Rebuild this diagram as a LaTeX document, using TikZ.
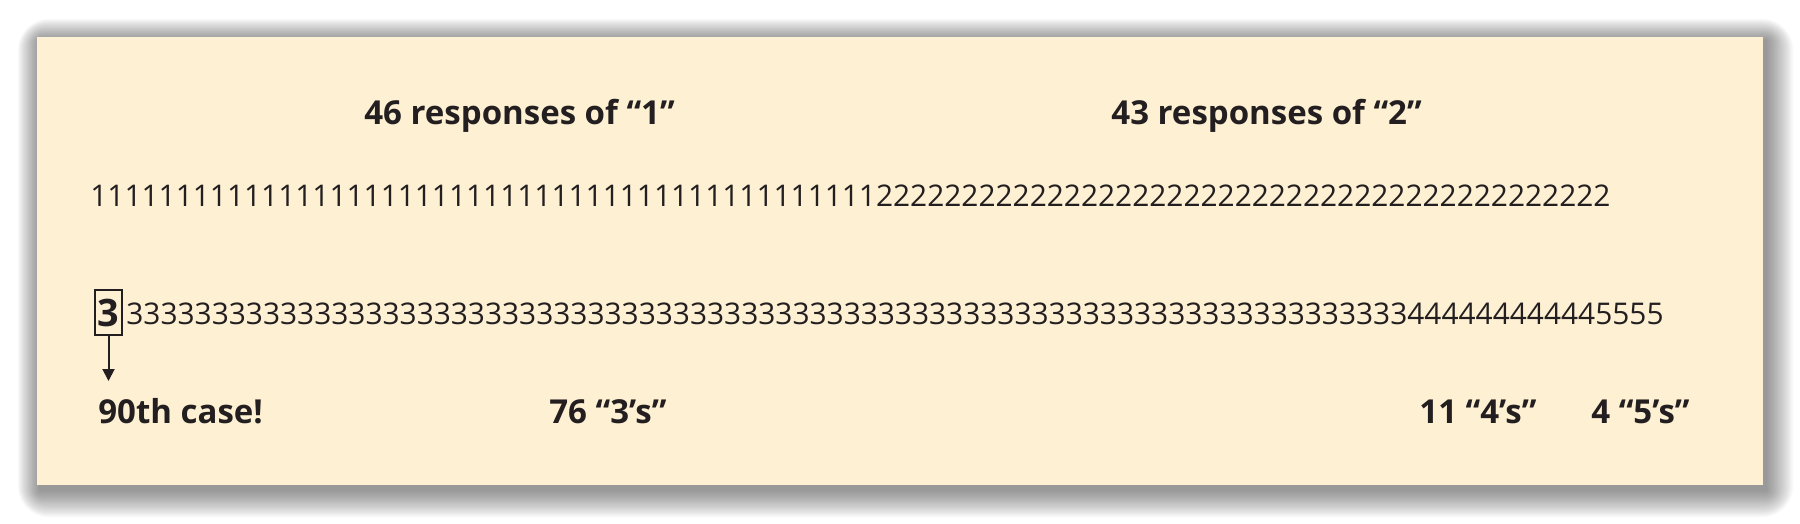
\documentclass[tikz,border=0pt]{standalone}
\usepackage{fontspec}
\setmainfont{Open Sans}
\usetikzlibrary{arrows.meta}
\definecolor{card}{RGB}{254,240,211}
\definecolor{ink}{RGB}{35,31,32}
\newcommand\myrep[2]{\foreach \i in {1,...,#1}{#2}}
\tikzset{
  digits/.style={font=\fontsize{14.93}{18}\selectfont, text=ink, inner sep=0pt, anchor=base west},
  lbl/.style={font=\bfseries\fontsize{16.5}{19}\selectfont, text=ink, inner sep=0pt, anchor=base west},
  boxthree/.style={draw=ink, line width=1pt, inner sep=0pt, minimum width=13.5pt, minimum height=22.5pt,
    font=\bfseries\fontsize{18.9}{20}\selectfont, text=ink},
  pointer/.style={draw=ink, line width=1pt, -{Triangle[length=6pt,width=6pt]}}
}
\begin{document}
\begin{tikzpicture}[x=0.5pt,y=-0.5pt]
\useasboundingbox (0,0) rectangle (1800,524);
% soft shadow
\foreach \k in {1,...,26}{
  \fill[black,opacity=0.018,rounded corners=\k*0.6pt] (37-\k*0.85+3,37-\k*0.85+4) rectangle (1763+\k*1.05+3,485+\k*1.05+5);
}
\fill[card] (37,37) rectangle (1763,485);
% labels
\node[lbl] (l1) at (364,125) {46 responses of “1”};
\node[lbl] (l2) at (1111,125) {43 responses of “2”};
% row 1
\node[digits] (r1) at (90,206) {\myrep{46}{1}\myrep{43}{2}};
% row 2
\node[boxthree] (b3) at (108.5,312.5) {3};
\node[digits] (r2) at (126,324) {\myrep{75}{3}\myrep{11}{4}\myrep{4}{5}};
\coordinate (tip) at (108.5,381);
\draw[pointer] (b3.south) -- (tip);
% bottom labels
\node[lbl] (c90) at (98,423) {90th case!};
\node[lbl] (c3) at (549,423) {76 “3’s”};
\node[lbl] (c4) at (1419,423) {11 “4’s”};
\node[lbl] (c5) at (1591,423) {4 “5’s”};
\end{tikzpicture}
\end{document}
